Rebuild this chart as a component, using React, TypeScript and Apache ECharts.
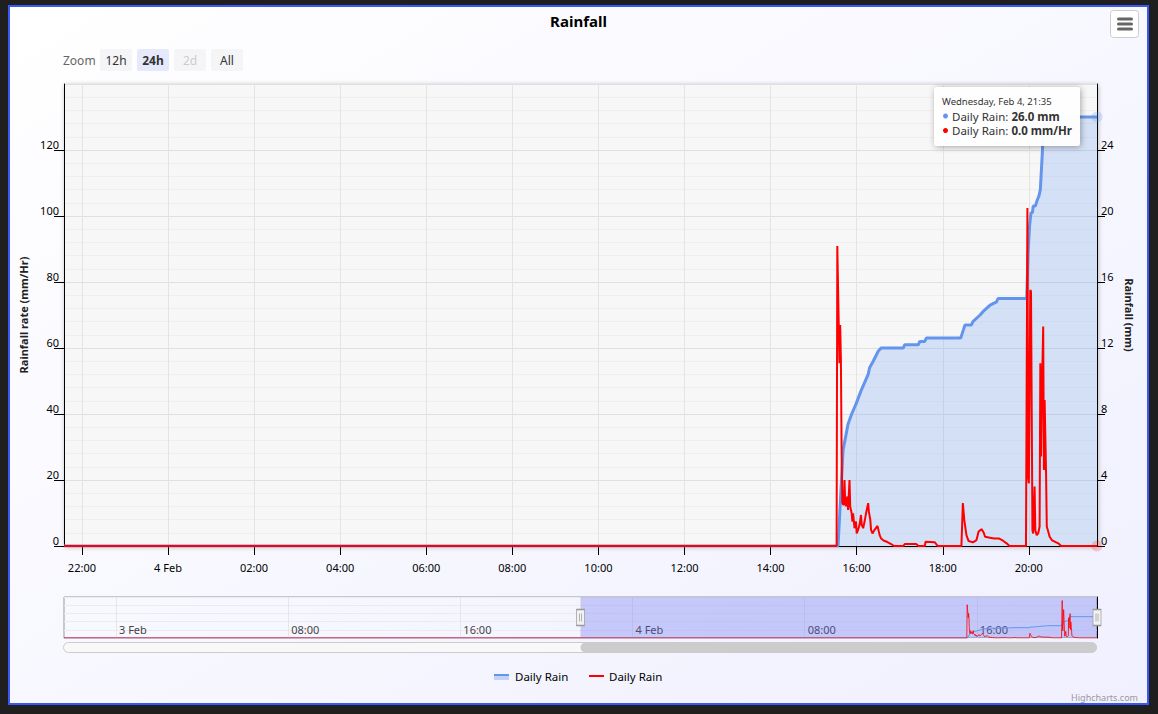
import React, { useEffect, useRef } from "react";
import * as echarts from "echarts";

const FONT = "'Noto Sans', sans-serif";

// Visible window and the longer history shown in the navigator
const windowStart = "02-03 21:35";
const windowEnd = "02-04 21:35";
const historyStart = "02-02 21:35";

// Rainfall rate (mm/Hr)
const rateTimes = [
  "02-03 21:35", "02-04 15:32", "02-04 15:33", "02-04 15:34", "02-04 15:36", "02-04 15:37",
  "02-04 15:38", "02-04 15:39", "02-04 15:40", "02-04 15:42", "02-04 15:43", "02-04 15:44",
  "02-04 15:45", "02-04 15:47", "02-04 15:48", "02-04 15:50", "02-04 15:51", "02-04 15:53",
  "02-04 15:54", "02-04 15:55", "02-04 15:57", "02-04 15:59", "02-04 16:00", "02-04 16:02",
  "02-04 16:04", "02-04 16:06", "02-04 16:07", "02-04 16:09", "02-04 16:11", "02-04 16:13",
  "02-04 16:16", "02-04 16:17", "02-04 16:19", "02-04 16:20", "02-04 16:22", "02-04 16:25",
  "02-04 16:29", "02-04 16:32", "02-04 16:34", "02-04 16:38", "02-04 16:43", "02-04 16:48",
  "02-04 16:52", "02-04 17:05", "02-04 17:07", "02-04 17:23", "02-04 17:26", "02-04 17:35",
  "02-04 17:36", "02-04 17:49", "02-04 17:53", "02-04 18:26", "02-04 18:28", "02-04 18:30",
  "02-04 18:33", "02-04 18:36", "02-04 18:42", "02-04 18:47", "02-04 18:50", "02-04 18:54",
  "02-04 18:57", "02-04 18:59", "02-04 19:06", "02-04 19:12", "02-04 19:18", "02-04 19:24",
  "02-04 19:29", "02-04 19:33", "02-04 19:56", "02-04 19:58", "02-04 19:59", "02-04 20:00",
  "02-04 20:02", "02-04 20:03", "02-04 20:05", "02-04 20:06", "02-04 20:08", "02-04 20:09",
  "02-04 20:11", "02-04 20:13", "02-04 20:15", "02-04 20:16", "02-04 20:17", "02-04 20:18",
  "02-04 20:20", "02-04 20:21", "02-04 20:22", "02-04 20:24", "02-04 20:25", "02-04 20:27",
  "02-04 20:29", "02-04 20:32", "02-04 20:36", "02-04 20:41", "02-04 20:45", "02-04 21:35",
];
const rateValues = [
  0, 0, 90.9, 78.6, 55.4, 67.0,
  56.4, 28.1, 13.0, 12.4, 20.0, 13.0,
  12.0, 15.0, 10.9, 20.0, 11.9, 9.9,
  7.4, 9.9, 5.4, 7.4, 3.8, 4.9,
  6.4, 9.4, 6.4, 5.4, 7.4, 9.9,
  13.0, 10.4, 7.9, 4.9, 3.8, 4.9,
  6.1, 3.3, 2.3, 1.6, 1.2, 0.6,
  0, 0, 0.6, 0.6, 0, 0,
  1.3, 1.1, 0, 0, 13.0, 7.9,
  3.3, 1.5, 1.1, 1.8, 4.4, 5.1,
  4.1, 2.8, 2.5, 2.3, 2.3, 1.6,
  0.8, 0, 0, 102.4, 21.0, 19.0,
  77.6, 77.1, 4.8, 3.8, 18.0, 4.8,
  3.3, 3.8, 5.9, 55.4, 27.1, 44.2,
  66.5, 23.0, 44.2, 22.0, 5.9, 4.4,
  2.8, 1.8, 1.3, 0.8, 0, 0.0,
];

// Daily rain total (mm)
const totalTimes = [
  "02-03 21:35", "02-04 15:34", "02-04 15:41", "02-04 15:48", "02-04 15:53", "02-04 15:59",
  "02-04 16:06", "02-04 16:16", "02-04 16:18", "02-04 16:23", "02-04 16:30", "02-04 16:34",
  "02-04 17:05", "02-04 17:07", "02-04 17:26", "02-04 17:28", "02-04 17:35", "02-04 17:37",
  "02-04 18:25", "02-04 18:31", "02-04 18:40", "02-04 18:42", "02-04 18:52", "02-04 18:56",
  "02-04 19:06", "02-04 19:15", "02-04 19:17", "02-04 19:57", "02-04 19:59", "02-04 20:01",
  "02-04 20:03", "02-04 20:05", "02-04 20:06", "02-04 20:09", "02-04 20:12", "02-04 20:14",
  "02-04 20:16", "02-04 20:17", "02-04 20:19", "02-04 20:20", "02-04 21:35",
];
const totalValues = [
  0, 0, 5.8, 7.4, 8.0, 8.6,
  9.4, 10.4, 10.8, 11.2, 11.8, 12.0,
  12.0, 12.2, 12.2, 12.4, 12.4, 12.6,
  12.6, 13.4, 13.4, 13.6, 14.0, 14.2,
  14.6, 14.8, 15.0, 15.0, 17.8, 19.4,
  20.2, 20.2, 20.6, 20.6, 21.0, 21.2,
  21.6, 22.4, 24.0, 26.0, 26.0,
];

// Axis ticks
const mainTickTimes = [
  "02-03 22:00", "02-04 00:00", "02-04 02:00", "02-04 04:00", "02-04 06:00", "02-04 08:00",
  "02-04 10:00", "02-04 12:00", "02-04 14:00", "02-04 16:00", "02-04 18:00", "02-04 20:00",
];
const navTickTimes = [
  "02-03 00:00", "02-03 08:00", "02-03 16:00", "02-04 00:00", "02-04 08:00", "02-04 16:00",
];
const rateAxis = { min: 0, max: 140, interval: 20 };
const totalAxis = { min: 0, max: 28, interval: 4 };
const zoomButtons = ["12h", "24h", "2d", "All"];
const selectedButton = "24h";
const disabledButton = "2d";

const RATE_NAME = "Daily Rain";
const TOTAL_NAME = "Daily Rain";
const BLUE = "#6495ed";
const RED = "#ff0000";

const MONTHS = ["Jan", "Feb", "Mar", "Apr", "May", "Jun", "Jul", "Aug", "Sep", "Oct", "Nov", "Dec"];
const WEEKDAYS = ["Sunday", "Monday", "Tuesday", "Wednesday", "Thursday", "Friday", "Saturday"];

const ts = (s: string) => Date.parse(`2026-${s.replace(" ", "T")}:00Z`);
const pad = (n: number) => String(n).padStart(2, "0");
const tickLabel = (v: number) => {
  const d = new Date(v);
  if (d.getUTCHours() === 0 && d.getUTCMinutes() === 0) return `${d.getUTCDate()} ${MONTHS[d.getUTCMonth()]}`;
  return `${pad(d.getUTCHours())}:${pad(d.getUTCMinutes())}`;
};
const headerLabel = (v: number) => {
  const d = new Date(v);
  return `${WEEKDAYS[d.getUTCDay()]}, ${MONTHS[d.getUTCMonth()]} ${d.getUTCDate()}, ${pad(d.getUTCHours())}:${pad(d.getUTCMinutes())}`;
};

const rateData = rateTimes.map((t, i) => [ts(t), rateValues[i]]);
const totalData = totalTimes.map((t, i) => [ts(t), totalValues[i]]);
const navRateData = [[ts(historyStart), 0], ...rateData];
const navTotalData = [[ts(historyStart), 0], ...totalData];

function buildOption() {
  const mainTicks = mainTickTimes.map(ts);
  const navTicks = navTickTimes.map(ts);
  const lastRate = rateData[rateData.length - 1];
  const lastTotal = totalData[totalData.length - 1];
  return {
    animation: false,
    backgroundColor: new echarts.graphic.LinearGradient(0, 0, 1, 1, [
      { offset: 0, color: "#ffffff" },
      { offset: 1, color: "#f0f0ff" },
    ]),
    textStyle: { fontFamily: FONT },
    title: {
      text: "Rainfall",
      left: "center",
      top: 1,
      textStyle: { fontSize: 15, fontWeight: "bold", color: "#000", fontFamily: FONT },
    },
    grid: [
      {
        left: 54, top: 77, width: 1033, height: 462,
        show: true, backgroundColor: "#f7f7f7", borderWidth: 0,
        shadowBlur: 5, shadowColor: "rgba(0,0,0,0.3)", shadowOffsetX: 1, shadowOffsetY: 1,
      },
      {
        left: 54, top: 590, width: 1033, height: 41,
        show: true, backgroundColor: "transparent", borderColor: "#999", borderWidth: 1,
      },
    ],
    xAxis: [
      {
        type: "value", gridIndex: 0, min: ts(windowStart), max: ts(windowEnd),
        axisLine: { show: true, onZero: false, lineStyle: { color: "#000" } },
        axisTick: { show: true, customValues: mainTicks, length: 9, lineStyle: { color: "#000" } },
        axisLabel: { customValues: mainTicks, formatter: tickLabel, color: "#000", fontSize: 11, margin: 16, fontFamily: FONT },
        splitLine: { show: true, lineStyle: { color: "#e4e4e4" } },
      },
      {
        type: "value", gridIndex: 1, min: ts(historyStart), max: ts(windowEnd),
        axisLine: { show: false, onZero: false },
        axisTick: { show: false, customValues: navTicks },
        axisLabel: {
          inside: true, customValues: navTicks, formatter: tickLabel, color: "#444", fontSize: 11,
          align: "left", margin: 3, padding: [0, 0, 0, 3], fontFamily: FONT,
        },
        splitLine: { show: true, lineStyle: { color: "#e6e6e6" } },
      },
    ],
    yAxis: [
      {
        type: "value", gridIndex: 0, position: "left", ...rateAxis,
        name: "Rainfall rate (mm/Hr)", nameLocation: "middle", nameGap: 23,
        nameTextStyle: { fontWeight: "bold", fontSize: 11, color: "#222", fontFamily: FONT },
        axisLine: { show: true, onZero: false, lineStyle: { color: "#000" } },
        axisTick: { show: true, length: 10, lineStyle: { color: "#000" } },
        axisLabel: { color: "#000", fontSize: 11, margin: 5, verticalAlign: "bottom", showMaxLabel: false, fontFamily: FONT },
        splitLine: { show: true, lineStyle: { color: "#e0e0e0" } },
        minorTick: { show: false, splitNumber: 5 },
        minorSplitLine: { show: true, lineStyle: { color: "#efefef" } },
      },
      {
        type: "value", gridIndex: 0, position: "right", ...totalAxis,
        name: "Rainfall (mm)", nameLocation: "middle", nameGap: 24, nameRotate: -90,
        nameTextStyle: { fontWeight: "bold", fontSize: 11, color: "#222", fontFamily: FONT },
        axisLine: { show: true, onZero: false, lineStyle: { color: "#000" } },
        axisTick: { show: true, length: 8, lineStyle: { color: "#000" } },
        axisLabel: { color: "#000", fontSize: 11, margin: 4, verticalAlign: "bottom", showMaxLabel: false, fontFamily: FONT },
        splitLine: { show: false },
      },
      {
        type: "value", gridIndex: 1, min: 0, max: 112, show: false,
      },
      {
        type: "value", gridIndex: 1, min: 0, max: 50, interval: 10,
        axisLine: { show: true, onZero: false, lineStyle: { color: "#000" } },
        axisTick: { show: false }, axisLabel: { show: false },
        splitLine: { show: true, lineStyle: { color: "#ececec" } },
      },
    ],
    series: [
      {
        name: TOTAL_NAME, type: "line", xAxisIndex: 0, yAxisIndex: 1, data: totalData,
        showSymbol: false, z: 2,
        lineStyle: { color: BLUE, width: 3 },
        itemStyle: { color: BLUE },
        areaStyle: { color: "rgba(100,149,237,0.34)" },
      },
      {
        name: RATE_NAME, type: "line", xAxisIndex: 0, yAxisIndex: 0, data: rateData,
        showSymbol: false, z: 3,
        lineStyle: { color: RED, width: 2 },
        itemStyle: { color: RED },
      },
      {
        type: "scatter", xAxisIndex: 0, yAxisIndex: 1, data: [lastTotal], clip: false, z: 4,
        symbolSize: 11, itemStyle: { color: "rgba(100,149,237,0.3)" }, silent: true,
      },
      {
        type: "scatter", xAxisIndex: 0, yAxisIndex: 0, data: [lastRate], clip: false, z: 4,
        symbolSize: 11, itemStyle: { color: "rgba(255,0,0,0.22)" }, silent: true,
      },
      {
        type: "line", xAxisIndex: 1, yAxisIndex: 3, data: navTotalData, showSymbol: false, z: 2,
        lineStyle: { color: BLUE, width: 1 }, areaStyle: { color: "rgba(100,149,237,0.05)" }, silent: true,
      },
      {
        type: "line", xAxisIndex: 1, yAxisIndex: 2, data: navRateData, showSymbol: false, z: 2,
        lineStyle: { color: RED, width: 1, opacity: 0.8 }, silent: true,
      },
      {
        // selected window mask and its handles
        type: "line", xAxisIndex: 1, yAxisIndex: 3, data: [], z: 5, silent: true,
        markArea: {
          silent: true,
          itemStyle: { color: "rgba(90,100,240,0.3)" },
          data: [[{ xAxis: ts(windowStart) }, { xAxis: ts(windowEnd) }]],
        },
        markPoint: {
          silent: true,
          symbol: "path://M0,0H8V16H0Z M3,4V12 M5,4V12",
          symbolSize: [8, 16],
          itemStyle: { color: "#f2f2f2", borderColor: "#999", borderWidth: 1 },
          label: { show: false },
          data: [{ coord: [ts(windowStart), 25] }, { coord: [ts(windowEnd), 25] }],
        },
      },
    ],
  };
}

function buildGraphics(thumbLeft: number, thumbRight: number) {
  const els: any[] = [];
  const lastTotal = totalValues[totalValues.length - 1];
  const lastRate = rateValues[rateValues.length - 1];

  // range selector
  els.push({ type: "text", x: 53, y: 53, style: { text: "Zoom", fontSize: 12, fill: "#666", fontFamily: FONT, verticalAlign: "middle" } });
  zoomButtons.forEach((b, i) => {
    const x = 90 + i * 37;
    const sel = b === selectedButton;
    const dis = b === disabledButton;
    els.push({ type: "rect", shape: { x, y: 42, width: 32, height: 22, r: 2 }, style: { fill: sel ? "#e6e9fc" : "#f5f5f7" } });
    els.push({
      type: "text", x: x + 16, y: 53,
      style: {
        text: b, fontSize: 12, fontWeight: sel ? "bold" : "normal", fill: dis ? "#ccc" : "#333",
        fontFamily: FONT, align: "center", verticalAlign: "middle",
      },
    });
  });

  // context menu button
  els.push({ type: "rect", shape: { x: 1100.5, y: 3.5, width: 28, height: 27, r: 3 }, style: { fill: "#fff", stroke: "#ccc", lineWidth: 1 } });
  [11, 16, 21].forEach((y) => {
    els.push({ type: "rect", shape: { x: 1107, y: y - 0.5, width: 16, height: 3, r: 1.5 }, style: { fill: "#666" } });
  });

  // tooltip at the last point
  const tz = 100;
  els.push({
    type: "rect", z: tz, shape: { x: 924, y: 80, width: 146, height: 59, r: 3 },
    style: { fill: "rgba(255,255,255,0.97)", shadowBlur: 6, shadowColor: "rgba(0,0,0,0.35)", shadowOffsetX: 1, shadowOffsetY: 1 },
  });
  els.push({
    type: "text", z: tz + 1, x: 932, y: 94,
    style: { text: headerLabel(ts(windowEnd)), fontSize: 9.5, fill: "#333", fontFamily: FONT, verticalAlign: "middle" },
  });
  const rows = [
    { color: BLUE, name: TOTAL_NAME, value: `${lastTotal.toFixed(1)} mm`, y: 109 },
    { color: RED, name: RATE_NAME, value: `${lastRate.toFixed(1)} mm/Hr`, y: 123.5 },
  ];
  rows.forEach((r) => {
    els.push({ type: "circle", z: tz + 1, shape: { cx: 935.5, cy: r.y, r: 2.5 }, style: { fill: r.color } });
    els.push({
      type: "text", z: tz + 1, x: 942, y: r.y,
      style: {
        text: `{a|${r.name}: }{b|${r.value}}`, verticalAlign: "middle", fontFamily: FONT,
        rich: {
          a: { fontSize: 11.5, fill: "#333", fontFamily: FONT },
          b: { fontSize: 11.5, fill: "#333", fontWeight: "bold", fontFamily: FONT },
        },
      },
    });
  });

  // legend
  els.push({ type: "rect", shape: { x: 484, y: 667, width: 15, height: 2 }, style: { fill: BLUE } });
  els.push({ type: "rect", shape: { x: 484, y: 669, width: 15, height: 4 }, style: { fill: "rgba(100,149,237,0.35)" } });
  els.push({ type: "text", x: 505, y: 669, style: { text: TOTAL_NAME, fontSize: 11.5, fill: "#000", fontFamily: FONT, verticalAlign: "middle" } });
  els.push({ type: "rect", shape: { x: 579, y: 668, width: 15, height: 2 }, style: { fill: RED } });
  els.push({ type: "text", x: 599, y: 669, style: { text: RATE_NAME, fontSize: 11.5, fill: "#000", fontFamily: FONT, verticalAlign: "middle" } });

  // credits
  els.push({ type: "text", x: 1128, y: 690, style: { text: "Highcharts.com", fontSize: 9, fill: "#999", fontFamily: FONT, align: "right", verticalAlign: "middle" } });

  // scrollbar
  els.push({ type: "rect", shape: { x: 53.5, y: 635.5, width: 1033, height: 10, r: 5 }, style: { fill: "#f8f8f8", stroke: "#ccc", lineWidth: 1 } });
  els.push({ type: "rect", shape: { x: thumbLeft, y: 635.5, width: thumbRight - thumbLeft, height: 10, r: 5 }, style: { fill: "#cccccc" } });
  return els;
}

export default function App() {
  const ref = useRef<HTMLDivElement>(null);
  useEffect(() => {
    const el = ref.current;
    if (!el) return;
    const chart = echarts.init(el, null, { renderer: "svg" });
    chart.setOption(buildOption() as any);
    const left = chart.convertToPixel({ xAxisIndex: 1 }, ts(windowStart)) as unknown as number;
    const right = chart.convertToPixel({ xAxisIndex: 1 }, ts(windowEnd)) as unknown as number;
    chart.setOption({ graphic: buildGraphics(left, right) } as any);
    return () => chart.dispose();
  }, []);
  return (
    <div style={{ position: "fixed", inset: 0, background: "#1f1f1f" }}>
      <div
        style={{
          position: "absolute", left: 8, top: 5, width: 1141, height: 700,
          border: "2px solid #3a57f7", boxSizing: "border-box",
        }}
      >
        <div ref={ref} style={{ width: "100%", height: "100%" }} />
      </div>
    </div>
  );
}
